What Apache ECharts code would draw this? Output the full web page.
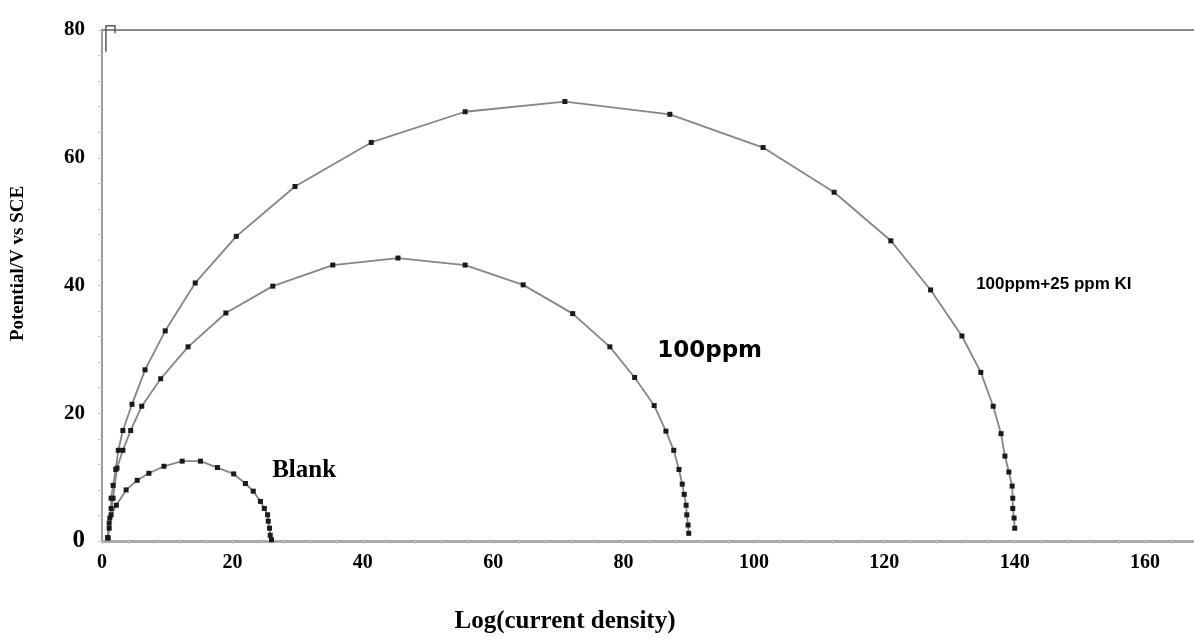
<!DOCTYPE html>
<html>
<head>
<meta charset="utf-8">
<script src="https://cdn.jsdelivr.net/npm/echarts@6/dist/echarts.min.js"></script>
<style>
html,body{margin:0;padding:0;background:#fff;}
#chart{width:1194px;height:639px;}
</style>
</head>
<body>
<div id="chart"></div>
<script>
// Tick labels
const xTickLabels = [0, 20, 40, 60, 80, 100, 120, 140, 160];
const yTickLabels = [0, 20, 40, 60, 80];

// Series names
const seriesNames = ['Blank', '100ppm', '100ppm+25 ppm KI'];

// Blank curve [x, y]
const blankPoints = [
  [0.9, 0.5], [1.1, 2.0], [1.4, 4.1], [2.2, 5.6], [3.7, 8.0], [5.4, 9.5], [7.2, 10.6],
  [9.5, 11.7], [12.3, 12.5], [15.1, 12.5], [17.7, 11.5], [20.2, 10.5], [22.0, 9.0],
  [23.2, 7.8], [24.3, 6.2], [24.9, 5.1], [25.4, 4.1], [25.5, 3.1], [25.7, 2.0],
  [25.8, 0.9], [26.0, 0.2]
];

// 100ppm curve [x, y]
const ppm100Points = [
  [0.9, 0.5], [1.2, 3.6], [1.7, 6.7], [2.3, 11.4], [3.2, 14.2], [4.4, 17.3], [6.1, 21.1],
  [9.0, 25.4], [13.2, 30.4], [19.0, 35.7], [26.2, 39.9], [35.4, 43.2], [45.4, 44.3],
  [55.7, 43.2], [64.6, 40.1], [72.2, 35.6], [77.9, 30.4], [81.7, 25.6], [84.7, 21.2],
  [86.5, 17.2], [87.7, 14.2], [88.5, 11.2], [89.0, 8.9], [89.3, 7.3], [89.6, 5.6],
  [89.7, 4.1], [89.9, 2.5], [90.0, 1.2]
];

// 100ppm + 25 ppm KI curve [x, y]
const ppmKIPoints = [
  [0.9, 0.5], [1.1, 2.8], [1.4, 5.1], [1.4, 6.7], [1.7, 8.7], [2.1, 11.2], [2.5, 14.2],
  [3.2, 17.3], [4.6, 21.4], [6.6, 26.8], [9.7, 32.9], [14.3, 40.4], [20.6, 47.7],
  [29.6, 55.5], [41.3, 62.4], [55.7, 67.2], [71.0, 68.8], [87.1, 66.8], [101.4, 61.6],
  [112.3, 54.6], [121.0, 47.0], [127.1, 39.3], [131.9, 32.1], [134.8, 26.4], [136.7, 21.1],
  [137.9, 16.8], [138.5, 13.3], [139.1, 10.8], [139.6, 8.6], [139.7, 6.7], [139.7, 5.1],
  [139.9, 3.6], [140.0, 2.0]
];

// Small hook drawn at the top-left corner of the original plot
const hookPoints = [[0.6, 76.6], [0.6, 80.65], [2.0, 80.65], [2.0, 79.5]];

// Label anchor positions (data coordinates)
const labelAnchors = [[31, 11.1], [93.2, 29.8], [146, 40.2]];

const chart = echarts.init(document.getElementById('chart'), null, {renderer: 'canvas'});

const lineColor = '#858585';
const markerColor = '#1a1a1a';

function curve(name, data, anchor, labelStyle) {
  return {
    name: name,
    type: 'line',
    data: data,
    symbol: 'rect',
    symbolSize: 5,
    showAllSymbol: true,
    itemStyle: {color: markerColor},
    lineStyle: {color: lineColor, width: 1.8},
    smooth: false,
    z: 3,
    markPoint: {
      symbol: 'rect',
      symbolSize: 0,
      silent: true,
      data: [{coord: anchor, value: name}],
      label: Object.assign({
        show: true,
        position: 'inside',
        formatter: name,
        color: '#000'
      }, labelStyle)
    }
  };
}

const option = {
  backgroundColor: '#ffffff',
  animation: false,
  grid: {left: 102, top: 30, right: 0, bottom: 96, containLabel: false},
  xAxis: [{
    type: 'value',
    min: 0,
    max: 167.5,
    interval: 4,
    position: 'bottom',
    name: 'Log(current density)',
    nameLocation: 'middle',
    nameGap: 68,
    nameTextStyle: {
      fontFamily: 'Liberation Serif',
      fontWeight: 'bold',
      fontSize: 25,
      color: '#000',
      verticalAlign: 'top',
      padding: [0, 166, 0, 0]
    },
    axisLine: {show: true, lineStyle: {color: '#ababab', width: 3}},
    axisTick: {show: true, inside: false, length: 3, lineStyle: {color: '#c4c4c4', width: 1}},
    axisLabel: {
      show: true,
      margin: 12,
      fontFamily: 'Liberation Serif',
      fontWeight: 'bold',
      fontSize: 20,
      color: '#000',
      showMaxLabel: false,
      formatter: function (v) { return xTickLabels.indexOf(v) >= 0 ? String(v) : ''; }
    },
    splitLine: {show: false}
  }, {
    type: 'value',
    min: 0,
    max: 167.5,
    position: 'top',
    axisLine: {show: true, onZero: false, lineStyle: {color: '#8a8a8a', width: 2}},
    axisTick: {show: false},
    axisLabel: {show: false},
    splitLine: {show: false}
  }],
  yAxis: {
    type: 'value',
    min: 0,
    max: 80,
    interval: 4,
    name: 'Potential/V vs SCE',
    nameLocation: 'middle',
    nameRotate: 90,
    nameGap: 74,
    nameTextStyle: {
      fontFamily: 'Liberation Serif',
      fontWeight: 'bold',
      fontSize: 19,
      color: '#000',
      padding: [0, 0, 0, 44]
    },
    axisLine: {show: true, lineStyle: {color: '#9c9c9c', width: 2}},
    axisTick: {show: true, inside: false, length: 4, lineStyle: {color: '#c8c8c8', width: 1}},
    axisLabel: {
      show: true,
      margin: 17,
      fontFamily: 'Liberation Serif',
      fontWeight: 'bold',
      fontSize: 21,
      color: '#000',
      formatter: function (v) {
        if (v === 0) return '{big|0}';
        return yTickLabels.indexOf(v) >= 0 ? String(v) : '';
      },
      rich: {
        big: {fontFamily: 'Liberation Serif', fontWeight: 'bold', fontSize: 25, color: '#000'}
      }
    },
    splitLine: {show: false}
  },
  series: [
    {
      name: 'hook',
      type: 'line',
      data: hookPoints,
      symbol: 'none',
      clip: false,
      lineStyle: {color: '#5a5a5a', width: 1.5},
      z: 2
    },
    curve(seriesNames[0], blankPoints, labelAnchors[0], {
      fontFamily: 'Liberation Serif', fontWeight: 'bold', fontSize: 25
    }),
    curve(seriesNames[1], ppm100Points, labelAnchors[1], {
      fontFamily: 'DejaVu Sans', fontWeight: 'bold', fontSize: 23
    }),
    curve(seriesNames[2], ppmKIPoints, labelAnchors[2], {
      fontFamily: 'Liberation Sans', fontWeight: 'bold', fontSize: 17
    })
  ]
};

chart.setOption(option);
</script>
</body>
</html>
